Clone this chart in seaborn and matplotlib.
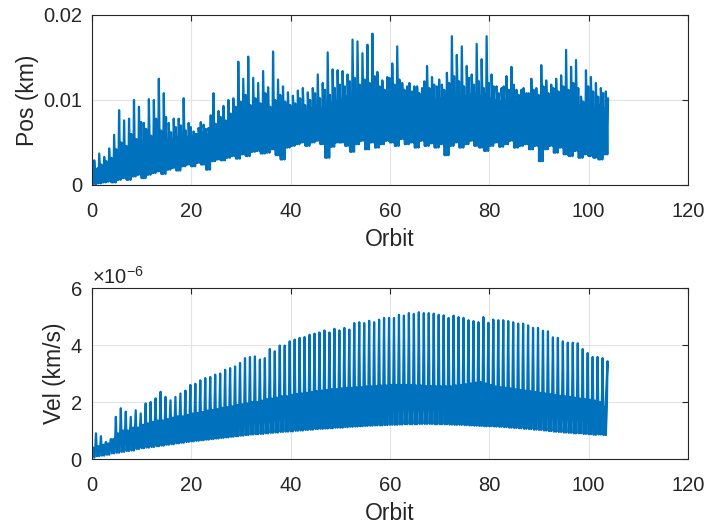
import numpy as np
import pandas as pd
import matplotlib
matplotlib.use("Agg")
import matplotlib.pyplot as plt
import seaborn as sns
from matplotlib.ticker import ScalarFormatter, FuncFormatter

# ---- data (per orbit, orbits 0..103) ----
# Position error (units of 1e-3 km)
pos_hi = [2.9, 3.7, 3.3, 4.3, 5.9, 8.8, 7.6, 7.8, 10.0, 9.2,
          7.3, 10.1, 10.0, 12.5, 10.8, 7.3, 7.8, 7.8, 10.2, 7.3,
          6.3, 6.7, 7.1, 6.7, 10.8, 8.7, 9.3, 10.0, 10.2, 14.5,
          12.5, 15.1, 12.6, 12.0, 13.4, 11.5, 15.7, 12.4, 11.6, 10.9,
          10.5, 11.1, 11.4, 10.9, 11.4, 13.0, 12.0, 15.6, 13.6, 13.5,
          13.4, 13.0, 17.1, 16.9, 15.5, 16.5, 17.8, 13.3, 12.3, 12.7,
          14.3, 16.3, 12.0, 11.6, 11.0, 11.6, 11.4, 14.0, 12.7, 11.6,
          11.8, 13.2, 17.5, 15.3, 16.3, 14.0, 13.0, 16.6, 14.8, 17.5,
          13.0, 11.6, 11.4, 12.8, 13.9, 11.2, 11.2, 10.8, 12.5, 11.4,
          14.1, 12.3, 11.8, 12.5, 12.9, 15.9, 13.9, 14.7, 10.4, 13.5,
          12.7, 12.0, 11.4, 11.0]
pos_hi2 = [1.8, 2.4, 2.8, 3.2, 4.2, 5.0, 4.6, 6.0, 5.4, 7.4,
           6.6, 5.8, 7.8, 6.4, 8.0, 6.2, 6.8, 7.0, 6.4, 6.8,
           6.0, 7.4, 6.6, 8.2, 7.2, 8.0, 7.6, 8.4, 9.2, 9.8,
           10.6, 9.4, 10.2, 9.6, 10.8, 9.2, 10.0, 10.6, 9.8, 9.4,
           9.6, 10.2, 9.4, 10.0, 10.8, 10.2, 11.2, 10.6, 11.4, 11.8,
           11.6, 12.2, 12.6, 11.8, 12.4, 12.0, 12.8, 11.6, 11.2, 12.6,
           11.8, 12.4, 11.2, 12.0, 11.6, 10.8, 12.2, 11.4, 11.8, 12.4,
           11.2, 12.0, 12.8, 12.2, 11.6, 12.6, 11.8, 12.2, 11.4, 12.0,
           11.6, 10.8, 11.6, 11.2, 11.8, 10.6, 11.4, 10.8, 11.2, 10.6,
           11.6, 10.8, 11.4, 11.0, 11.6, 11.2, 12.0, 11.4, 9.8, 11.6,
           11.0, 10.4, 10.8, 10.2]
pos_lo = [0.1, 0.2, 0.3, 0.4, 0.3, 0.6, 0.8, 0.6, 1.0, 1.2,
          0.8, 1.2, 1.4, 1.6, 1.3, 1.8, 2.0, 1.7, 2.2, 2.4,
          2.2, 2.6, 2.4, 1.8, 2.8, 3.0, 2.9, 3.2, 3.4, 3.1,
          3.6, 3.4, 3.9, 4.0, 3.7, 3.8, 4.2, 3.5, 3.0, 4.4,
          4.6, 4.8, 5.0, 4.6, 5.0, 5.2, 4.8, 3.2, 4.5, 5.0,
          5.0, 4.6, 3.9, 4.8, 5.2, 4.2, 5.0, 4.4, 4.8, 5.2,
          5.0, 4.6, 5.4, 4.8, 5.0, 4.4, 5.2, 4.6, 4.9, 4.4,
          4.8, 3.5, 4.6, 5.0, 4.4, 4.8, 5.2, 4.6, 4.4, 4.0,
          4.6, 5.0, 4.5, 4.8, 5.2, 4.4, 4.6, 4.8, 4.2, 4.6,
          2.8, 4.2, 4.6, 3.8, 4.4, 3.6, 3.4, 4.0, 3.2, 3.6,
          3.4, 3.2, 3.0, 3.6]
pos_mid = [1.6, 2.0, 2.2, 2.6, 3.0, 3.4, 3.6, 3.8, 4.0, 4.4,
           4.6, 4.8, 5.0, 5.4, 5.0, 5.2, 5.4, 5.6, 5.8, 5.6,
           5.8, 6.0, 6.2, 6.0, 6.4, 6.8, 7.0, 7.2, 7.6, 7.8,
           8.0, 8.2, 8.4, 8.0, 8.6, 8.4, 8.8, 8.2, 8.0, 8.4,
           8.6, 8.4, 8.8, 8.6, 9.0, 9.2, 9.0, 9.4, 9.6, 9.8,
           10.0, 10.4, 10.6, 10.8, 10.6, 11.0, 10.8, 10.4, 10.2, 10.4,
           10.6, 10.8, 10.4, 10.2, 10.0, 10.2, 10.4, 10.6, 10.2, 10.0,
           10.2, 10.8, 11.0, 10.8, 10.6, 10.4, 10.6, 10.8, 10.4, 10.6,
           10.2, 10.0, 9.8, 10.0, 10.2, 9.8, 9.6, 9.8, 10.0, 9.6,
           9.8, 9.6, 9.4, 9.8, 9.6, 10.0, 9.8, 9.6, 9.4, 9.2,
           9.2, 9.0, 9.4, 9.0]

# Velocity error (units of 1e-6 km/s)
vel_peak = [0.9, 0.8, 0.6, 0.7, 1.48, 1.78, 1.66, 1.48, 1.71, 1.6,
            1.95, 2.0, 2.13, 2.36, 2.18, 2.06, 2.18, 2.3, 2.4, 2.6,
            2.64, 2.76, 2.84, 2.88, 2.96, 3.0, 3.13, 3.19, 3.25, 3.37,
            3.54, 3.58, 3.6, 3.49, 3.54, 3.86, 3.78, 3.98, 3.98, 4.13,
            4.19, 4.25, 4.28, 4.36, 4.4, 4.44, 4.51, 4.44, 4.57, 4.51,
            4.6, 4.54, 4.77, 4.8, 4.77, 4.85, 4.8, 4.89, 4.95, 4.95,
            4.95, 5.06, 5.03, 5.12, 5.09, 5.15, 5.12, 5.12, 5.1, 5.06,
            5.04, 4.95, 5.03, 4.98, 4.95, 4.87, 4.84, 4.8, 4.98, 4.78,
            4.89, 4.87, 4.87, 4.84, 4.8, 4.75, 4.75, 4.69, 4.6, 4.6,
            4.5, 4.48, 4.27, 4.25, 4.13, 4.08, 4.08, 4.06, 3.86, 3.72,
            3.58, 3.58, 3.54, 3.43]
vel_low = [0.05, 0.1, 0.12, 0.15, 0.2, 0.22, 0.25, 0.28, 0.3, 0.35,
           0.38, 0.4, 0.42, 0.45, 0.47, 0.5, 0.52, 0.55, 0.57, 0.6,
           0.62, 0.64, 0.66, 0.68, 0.7, 0.72, 0.74, 0.76, 0.78, 0.8,
           0.82, 0.84, 0.86, 0.87, 0.88, 0.9, 0.92, 0.93, 0.95, 0.96,
           0.97, 0.99, 1.0, 1.02, 1.03, 1.05, 1.06, 1.07, 1.08, 1.1,
           1.1, 1.12, 1.13, 1.14, 1.15, 1.16, 1.17, 1.18, 1.18, 1.19,
           1.2, 1.2, 1.21, 1.22, 1.22, 1.22, 1.23, 1.23, 1.23, 1.22,
           1.22, 1.22, 1.21, 1.2, 1.2, 1.19, 1.18, 1.17, 1.16, 1.15,
           1.15, 1.14, 1.13, 1.12, 1.1, 1.09, 1.08, 1.06, 1.05, 1.03,
           1.02, 1.0, 0.98, 0.96, 0.95, 0.93, 0.92, 0.9, 0.9, 0.88,
           0.87, 0.85, 0.86, 0.84]
vel_mid = [0.4, 0.45, 0.5, 0.55, 0.7, 0.9, 1.0, 1.0, 1.1, 1.1,
           1.2, 1.25, 1.3, 1.35, 1.35, 1.4, 1.45, 1.5, 1.5, 1.55,
           1.6, 1.62, 1.65, 1.7, 1.72, 1.75, 1.8, 1.82, 1.85, 1.9,
           1.92, 1.95, 2.0, 2.0, 2.05, 2.1, 2.12, 2.15, 2.2, 2.2,
           2.25, 2.28, 2.3, 2.32, 2.35, 2.38, 2.4, 2.42, 2.45, 2.45,
           2.48, 2.5, 2.5, 2.52, 2.52, 2.55, 2.55, 2.56, 2.58, 2.58,
           2.6, 2.6, 2.6, 2.6, 2.6, 2.58, 2.58, 2.56, 2.56, 2.55,
           2.55, 2.55, 2.55, 2.58, 2.6, 2.62, 2.65, 2.68, 2.7, 2.65,
           2.6, 2.55, 2.52, 2.5, 2.48, 2.45, 2.42, 2.4, 2.38, 2.35,
           2.32, 2.3, 2.28, 2.25, 2.22, 2.2, 2.18, 2.15, 2.12, 2.1,
           2.08, 2.05, 2.0, 1.8]

x_ticks = [0, 20, 40, 60, 80, 100, 120]
pos_ticks = [0, 0.01, 0.02]
vel_ticks = [0, 2e-6, 4e-6, 6e-6]

# ---- assemble samples within each orbit from the typed levels ----
pos_x, pos_y, vel_x, vel_y = [], [], [], []
for k in range(len(pos_hi)):
    for off, v in zip([0.0, 0.15, 0.3, 0.45, 0.6, 0.75, 0.9],
                      [pos_lo[k], pos_mid[k], pos_lo[k], pos_hi[k],
                       pos_mid[k], pos_lo[k], pos_hi2[k]]):
        pos_x.append(k + off)
        pos_y.append(v * 1e-3)
for k in range(len(vel_peak)):
    for off, v in zip([0.0, 0.25, 0.45, 0.65, 0.8],
                      [vel_low[k], vel_mid[k], vel_low[k], vel_mid[k], vel_peak[k]]):
        vel_x.append(k + off)
        vel_y.append(v * 1e-6)
vel_x.append(103.4); vel_y.append(vel_mid[-1] * 1e-6)

df_pos = pd.DataFrame({"Orbit": pos_x, "Pos": pos_y})
df_vel = pd.DataFrame({"Orbit": vel_x, "Vel": vel_y})

sns.set_theme(style="white")
plt.rcParams["font.family"] = ["Liberation Sans", "DejaVu Sans"]
plt.rcParams["mathtext.fontset"] = "custom"
plt.rcParams["mathtext.rm"] = "Liberation Sans"
plt.rcParams["mathtext.it"] = "Liberation Sans"

fig = plt.figure(figsize=(7.09, 5.27), dpi=100)
ax1 = fig.add_axes([0.1298, 0.649, 0.8406, 0.3226])
ax2 = fig.add_axes([0.1298, 0.129, 0.8406, 0.3245])

blue = "#0072BD"
edge = "#262626"
sns.lineplot(data=df_pos, x="Orbit", y="Pos", ax=ax1, color=blue, lw=1.6,
             estimator=None, sort=False)
sns.lineplot(data=df_vel, x="Orbit", y="Vel", ax=ax2, color=blue, lw=1.6,
             estimator=None, sort=False)

for ax in (ax1, ax2):
    ax.set_xlim(0, 120)
    ax.set_xticks(x_ticks)
    ax.grid(True, color="#e3e3e3", lw=0.8)
    ax.set_axisbelow(True)
    for s in ax.spines.values():
        s.set_color(edge)
        s.set_linewidth(0.8)
    ax.tick_params(direction="in", length=4, width=0.8, colors=edge,
                   labelsize=14.5, top=True, right=True)
    ax.tick_params(axis="x", pad=12)
    ax.tick_params(axis="y", pad=7)
    ax.set_xlabel("Orbit", fontsize=16.5, color=edge, labelpad=5)

ax1.set_ylim(0, 0.02)
ax1.set_yticks(pos_ticks)
ax1.yaxis.set_major_formatter(FuncFormatter(lambda v, p: "%g" % round(v, 4)))
ax1.set_ylabel("Pos (km)", fontsize=16.5, color=edge, labelpad=3)

ax2.set_ylim(0, 6e-6)
ax2.set_yticks(vel_ticks)
fmt = ScalarFormatter(useMathText=True)
fmt.set_powerlimits((0, 0))
ax2.yaxis.set_major_formatter(fmt)
ax2.yaxis.get_offset_text().set_fontsize(14.5)
ax2.yaxis.get_offset_text().set_color(edge)
ax2.set_ylabel("Vel (km/s)", fontsize=16.5, color=edge, labelpad=3)

fig.savefig("out.png", dpi=100, facecolor="white")
